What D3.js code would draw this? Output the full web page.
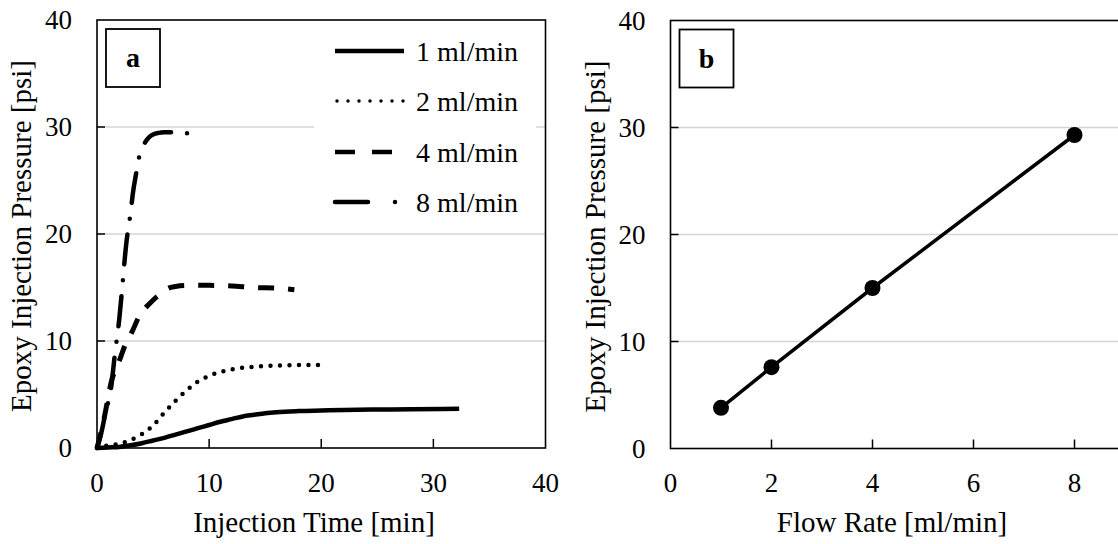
<!DOCTYPE html>
<html>
<head>
<meta charset="utf-8">
<script src="https://cdn.jsdelivr.net/npm/d3@7"></script>
<style>
  body { margin: 0; background: #fff; }
  svg { display: block; font-family: "Liberation Serif", "Times New Roman", serif; }
</style>
</head>
<body>
<div id="chart"></div>
<script>
// Data - panel a: injection pressure over time, one curve per flow rate
const time_1 = [0, 1, 2, 3, 4, 5, 6, 7, 8, 9, 10, 11, 12, 13, 14, 15, 16, 18, 20, 22, 25, 28, 32.3];
const pres_1 = [0, 0.05, 0.1, 0.25, 0.45, 0.7, 0.95, 1.25, 1.55, 1.85, 2.15, 2.45, 2.7, 2.95, 3.1, 3.25, 3.35, 3.45, 3.5, 3.55, 3.6, 3.62, 3.67];

const time_2 = [0, 1, 2, 3, 4, 5, 6, 7, 8, 9, 10, 11, 12, 13, 14, 16, 18, 20.2];
const pres_2 = [0, 0.25, 0.4, 0.75, 1.3, 2.1, 3.3, 4.4, 5.4, 6.2, 6.75, 7.1, 7.35, 7.5, 7.6, 7.7, 7.75, 7.75];

const time_4 = [0, 0.3, 0.6, 0.9, 1.3, 1.6, 1.9, 2.5, 3.1, 3.8, 4.7, 5.3, 5.8, 6.3, 7, 8, 10, 12, 14, 16, 17.6];
const pres_4 = [0, 1.2, 2.6, 4.2, 6.3, 7.2, 7.9, 9.6, 10.8, 12.4, 13.5, 14.1, 14.5, 14.9, 15.1, 15.2, 15.2, 15.15, 15.0, 14.95, 14.8];

const time_8 = [0, 0.4, 0.8, 1.2, 1.6, 2.0, 2.2, 2.4, 2.6, 2.8, 3.0, 3.2, 3.5, 3.8, 4.2, 4.6, 5.0, 5.5, 6.0, 7.0, 8.2];
const pres_8 = [0, 1.5, 3.5, 5.2, 8.8, 12.2, 14.4, 16.8, 19.0, 20.6, 22.0, 23.8, 25.7, 27.4, 28.4, 29.0, 29.3, 29.45, 29.5, 29.5, 29.4];

const legend_labels = ['1 ml/min', '2 ml/min', '4 ml/min', '8 ml/min'];

// Data - panel b: final pressure vs flow rate
const flow_rates = [1, 2, 4, 8];
const final_pressures = [3.8, 7.6, 15.0, 29.3];

// Tick values
const y_ticks = [0, 10, 20, 30, 40];
const x_ticks_a = [0, 10, 20, 30, 40];
const x_ticks_b = [0, 2, 4, 6, 8];

const chart_width = 1118;
const chart_height = 544;

const svg = d3.select('#chart')
    .append('svg')
    .attr('width', chart_width)
    .attr('height', chart_height);

// Scales
const x_a = d3.scaleLinear().domain([0, 40]).range([97, 545.5]);
const y_a = d3.scaleLinear().domain([0, 40]).range([448, 20]);
const x_b = d3.scaleLinear().domain([0, 10]).range([670.5, 1175.5]);
const y_b = d3.scaleLinear().domain([0, 40]).range([448.5, 20.5]);

function frame(x, y, x_ticks, x_title, title_x, panel_label) {
    const g = svg.append('g');
    const [x0, x1] = x.range();
    const [y0, y1] = y.range();
    const inner = y_ticks.filter(d => d > 0 && d < 40);

    // gridlines
    g.selectAll('.grid')
        .data(inner)
        .enter()
        .append('line')
        .attr('x1', x0).attr('x2', x1)
        .attr('y1', d => y(d)).attr('y2', d => y(d))
        .attr('stroke', '#d4d4d4')
        .attr('stroke-width', 1.5);

    // inward ticks
    g.selectAll('.ytick')
        .data(inner)
        .enter()
        .append('line')
        .attr('x1', x0).attr('x2', x0 + 8)
        .attr('y1', d => y(d)).attr('y2', d => y(d))
        .attr('stroke', '#000')
        .attr('stroke-width', 1.5);

    g.selectAll('.xtick')
        .data(x_ticks.filter(d => d > x.domain()[0] && d < x.domain()[1]))
        .enter()
        .append('line')
        .attr('x1', d => x(d)).attr('x2', d => x(d))
        .attr('y1', y0).attr('y2', y0 - 9)
        .attr('stroke', '#000')
        .attr('stroke-width', 1.5);

    // box
    g.append('rect')
        .attr('x', x0).attr('y', y1)
        .attr('width', x1 - x0).attr('height', y0 - y1)
        .attr('fill', 'none')
        .attr('stroke', '#000')
        .attr('stroke-width', 1.6);

    // tick labels
    g.selectAll('.ylab')
        .data(y_ticks)
        .enter()
        .append('text')
        .attr('x', x0 - 25)
        .attr('y', d => y(d) + 9)
        .attr('text-anchor', 'end')
        .attr('font-size', 27)
        .text(d => d);

    g.selectAll('.xlab')
        .data(x_ticks)
        .enter()
        .append('text')
        .attr('x', d => x(d))
        .attr('y', 492)
        .attr('text-anchor', 'middle')
        .attr('font-size', 27)
        .text(d => d);

    // axis titles
    g.append('text')
        .attr('x', title_x)
        .attr('y', 532)
        .attr('text-anchor', 'middle')
        .attr('font-size', 29)
        .text(x_title);

    g.append('text')
        .attr('transform', `translate(${x0 - 66},${(y0 + y1) / 2 + 2}) rotate(-90)`)
        .attr('text-anchor', 'middle')
        .attr('font-size', 29)
        .text('Epoxy Injection Pressure [psi]');

    // panel label box
    g.append('rect')
        .attr('x', x0 + 9).attr('y', y1 + 9)
        .attr('width', 54).attr('height', 58)
        .attr('fill', '#fff')
        .attr('stroke', '#000')
        .attr('stroke-width', 1.8);

    g.append('text')
        .attr('x', x0 + 36).attr('y', y1 + 47)
        .attr('text-anchor', 'middle')
        .attr('font-size', 28)
        .attr('font-weight', 'bold')
        .text(panel_label);

    return g;
}

const g_a = frame(x_a, y_a, x_ticks_a, 'Injection Time [min]', 314, 'a');

// legend background hides the gridline behind it
g_a.append('rect')
    .attr('x', 314).attr('y', 24)
    .attr('width', 222).attr('height', 200)
    .attr('fill', '#fff');

const styles = [
    { dash: null, width: 4.5, cap: 'butt', legend_dash: null },
    { dash: '0,9.5', width: 4.5, cap: 'round', legend_dash: '0,11' },
    { dash: '16,14', width: 5, cap: 'butt', legend_dash: '20,17' },
    { dash: '30,16,0,16', width: 4.5, cap: 'round', legend_dash: '33,27,0,40' }
];

const series = [
    d3.zip(time_1, pres_1),
    d3.zip(time_2, pres_2),
    d3.zip(time_4, pres_4),
    d3.zip(time_8, pres_8)
];

const line_a = d3.line()
    .x(d => x_a(d[0]))
    .y(d => y_a(d[1]))
    .curve(d3.curveMonotoneX);

g_a.selectAll('.curve')
    .data(series)
    .enter()
    .append('path')
    .attr('d', line_a)
    .attr('fill', 'none')
    .attr('stroke', '#000')
    .attr('stroke-width', (d, i) => styles[i].width)
    .attr('stroke-linecap', (d, i) => styles[i].cap)
    .attr('stroke-dasharray', (d, i) => styles[i].dash);

// Legend
const legend_rows = [51, 101, 152, 202];
const legend = g_a.selectAll('.legend')
    .data(legend_labels)
    .enter()
    .append('g')
    .attr('transform', (d, i) => `translate(0,${legend_rows[i]})`);

legend.append('line')
    .attr('x1', (d, i) => i === 1 ? 337 : 335)
    .attr('x2', (d, i) => i === 3 ? 397 : 404)
    .attr('y1', 0).attr('y2', 0)
    .attr('stroke', '#000')
    .attr('stroke-width', (d, i) => i === 1 ? 3.5 : 4.5)
    .attr('stroke-linecap', (d, i) => styles[i].cap)
    .attr('stroke-dasharray', (d, i) => styles[i].legend_dash);

legend.append('text')
    .attr('x', 518)
    .attr('y', 10)
    .attr('text-anchor', 'end')
    .attr('font-size', 28)
    .text(d => d);

// Panel b
const g_b = frame(x_b, y_b, x_ticks_b, 'Flow Rate [ml/min]', 892, 'b');

const points_b = d3.zip(flow_rates, final_pressures);

g_b.append('path')
    .datum(points_b)
    .attr('d', d3.line().x(d => x_b(d[0])).y(d => y_b(d[1])))
    .attr('fill', 'none')
    .attr('stroke', '#000')
    .attr('stroke-width', 3.5);

g_b.selectAll('circle')
    .data(points_b)
    .enter()
    .append('circle')
    .attr('cx', d => x_b(d[0]))
    .attr('cy', d => y_b(d[1]))
    .attr('r', 8)
    .attr('fill', '#000');
</script>
</body>
</html>
